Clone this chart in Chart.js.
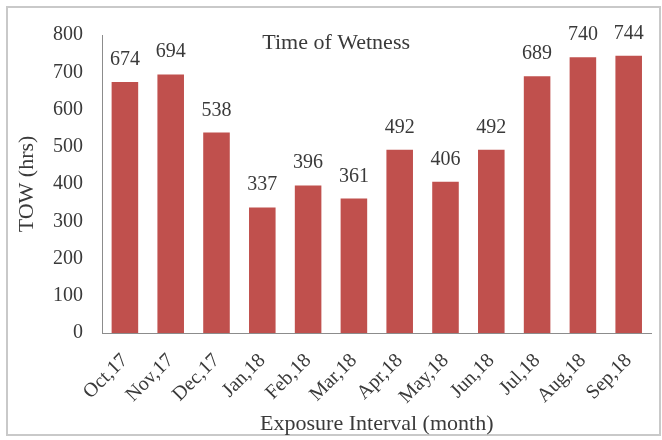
<!DOCTYPE html>
<html>
<head>
<meta charset="utf-8">
<script src="https://cdn.jsdelivr.net/npm/chart.js@4/dist/chart.umd.min.js"></script>
<style>
  html, body { margin: 0; padding: 0; background: #fff; }
  #wrap { width: 662px; height: 440px; position: relative; }
</style>
</head>
<body>
<div id="wrap"><canvas id="c" width="662" height="440"></canvas></div>
<script>
const categories = ["Oct,17","Nov,17","Dec,17","Jan,18","Feb,18","Mar,18","Apr,18","May,18","Jun,18","Jul,18","Aug,18","Sep,18"];
const towValues = [674, 694, 538, 337, 396, 361, 492, 406, 492, 689, 740, 744];
const chartTitle = "Time of Wetness";
const yTitle = "TOW (hrs)";
const xTitle = "Exposure Interval (month)";

const FONT = "'Liberation Serif', 'Times New Roman', serif";
const TXT = '#3a3a3a';

const frame = {
  id: 'frame',
  beforeDraw(chart) {
    const ctx = chart.ctx;
    ctx.save();
    ctx.fillStyle = '#fff';
    ctx.fillRect(0, 0, chart.width, chart.height);
    ctx.strokeStyle = '#c9c9c9';
    ctx.lineWidth = 2;
    ctx.strokeRect(7, 7, chart.width - 9, chart.height - 12);
    ctx.restore();
  }
};

const labelsAndTitle = {
  id: 'labelsAndTitle',
  afterDatasetsDraw(chart) {
    const ctx = chart.ctx;
    const area = chart.chartArea;
    ctx.save();
    ctx.fillStyle = TXT;
    ctx.font = "20px " + FONT;
    ctx.textAlign = 'center';
    ctx.textBaseline = 'alphabetic';
    const meta = chart.getDatasetMeta(0);
    meta.data.forEach((bar, i) => {
      ctx.fillText(String(chart.data.datasets[0].data[i]), bar.x, bar.y - 17);
    });
    ctx.font = "22px " + FONT;
    ctx.textBaseline = 'middle';
    ctx.fillText(chartTitle, area.left + (area.right - area.left) * 0.426, area.top + 8);
    ctx.restore();
  }
};

new Chart(document.getElementById('c'), {
  type: 'bar',
  data: {
    labels: categories,
    datasets: [{
      data: towValues,
      backgroundColor: '#C0504D',
      borderWidth: 0,
      categoryPercentage: 1.0,
      barPercentage: 0.58
    }]
  },
  options: {
    responsive: false,
    animation: false,
    layout: { padding: { left: 8, right: 8, top: 35, bottom: 0 } },
    plugins: { legend: { display: false }, tooltip: { enabled: false }, title: { display: false } },
    scales: {
      y: {
        min: 0, max: 800,
        ticks: { stepSize: 100, color: TXT, font: { family: FONT, size: 20 }, padding: 19 },
        grid: { display: false, drawTicks: false },
        border: { display: true, color: '#8c8c8c', width: 1 },
        title: { display: true, text: yTitle, color: TXT, font: { family: FONT, size: 22 }, padding: { top: 6, bottom: 0 } },
        afterFit(scale) { scale.width = 94; }
      },
      x: {
        ticks: { color: TXT, font: { family: FONT, size: 20 }, minRotation: 45, maxRotation: 45, padding: 16, autoSkip: false },
        grid: { display: false, drawTicks: false },
        border: { display: true, color: '#8c8c8c', width: 1 },
        title: { display: true, text: xTitle, color: TXT, font: { family: FONT, size: 22 }, padding: { top: 0, bottom: 3 } },
        afterFit(scale) { scale.height = 107; }
      }
    }
  },
  plugins: [frame, labelsAndTitle]
});
</script>
</body>
</html>
